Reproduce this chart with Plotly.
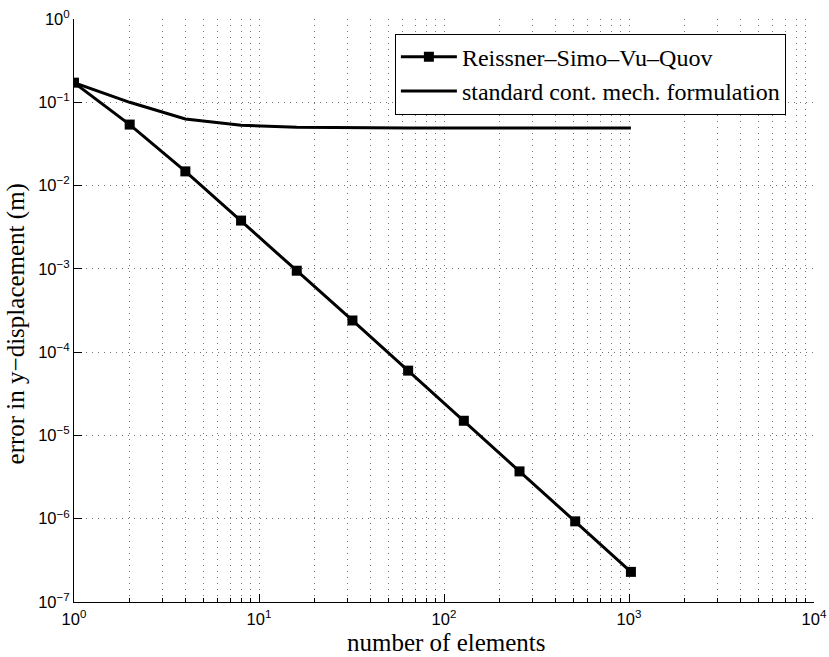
import plotly.graph_objects as go

# Data
n_elements = [1, 2, 4, 8, 16, 32, 64, 128, 256, 512, 1024]
err_rsvq = [0.172, 0.054, 0.0148, 0.0038, 0.00095, 0.00024, 6.0e-5, 1.5e-5, 3.7e-6, 9.3e-7, 2.3e-7]
err_standard = [0.172, 0.100, 0.063, 0.053, 0.050, 0.049, 0.049, 0.049, 0.049, 0.049, 0.049]

x_tickvals = [1, 10, 100, 1000, 10000]
x_ticktext = ["10<sup>0</sup>", "10<sup>1</sup>", "10<sup>2</sup>", "10<sup>3</sup>", "10<sup>4</sup>"]
x_minorvals = [2, 3, 4, 5, 6, 7, 8, 9,
               20, 30, 40, 50, 60, 70, 80, 90,
               200, 300, 400, 500, 600, 700, 800, 900,
               2000, 3000, 4000, 5000, 6000, 7000, 8000, 9000]
y_tickvals = [1e-7, 1e-6, 1e-5, 1e-4, 1e-3, 1e-2, 1e-1, 1]
y_ticktext = ["10<sup>−7</sup>", "10<sup>−6</sup>", "10<sup>−5</sup>", "10<sup>−4</sup>",
              "10<sup>−3</sup>", "10<sup>−2</sup>", "10<sup>−1</sup>", "10<sup>0</sup>"]
x_title = "number of elements"
y_title = "error in y−displacement (m)"

fig = go.Figure()
fig.add_trace(go.Scatter(
    x=n_elements, y=err_rsvq, mode="lines+markers",
    name="Reissner–Simo–Vu–Quov",
    line=dict(color="black", width=3),
    marker=dict(symbol="square", size=10, color="black"),
))
fig.add_trace(go.Scatter(
    x=n_elements, y=err_standard, mode="lines",
    name="standard cont. mech. formulation",
    line=dict(color="black", width=3),
))

grid_color = "rgba(0,0,0,0.55)"
tick_font = dict(family="Liberation Sans, Arial, sans-serif", size=16.5, color="black")
serif = "Liberation Serif, Times New Roman, serif"

fig.update_layout(
    width=829, height=657,
    margin=dict(l=74, r=15, t=19, b=55),
    paper_bgcolor="white", plot_bgcolor="white",
    showlegend=True,
    legend=dict(
        x=0.962, y=0.975, xanchor="right", yanchor="top",
        bgcolor="white", bordercolor="black", borderwidth=1,
        font=dict(family=serif, size=24, color="black"),
        itemwidth=56, tracegroupgap=0,
    ),
    xaxis=dict(
        type="log", range=[0, 4], automargin=False,
        tickmode="array", tickvals=x_tickvals, ticktext=x_ticktext,
        ticks="inside", ticklen=8, tickcolor="black", tickwidth=1,
        ticklabelstandoff=2,
        showline=True, linecolor="black", linewidth=1, mirror=False,
        showgrid=True, gridcolor=grid_color, griddash="1px,5px", gridwidth=1,
        zeroline=False,
        tickfont=tick_font,
        minor=dict(tickmode="array", tickvals=x_minorvals, ticks="inside", ticklen=4,
                   tickcolor="black", showgrid=True, gridcolor=grid_color,
                   griddash="1px,5px", gridwidth=1),
    ),
    yaxis=dict(
        type="log", range=[-7, 0], automargin=False,
        tickmode="array", tickvals=y_tickvals, ticktext=y_ticktext,
        ticks="inside", ticklen=8, tickcolor="black", tickwidth=1,
        showline=True, linecolor="black", linewidth=1, mirror=False,
        showgrid=True, gridcolor=grid_color, griddash="1px,5px", gridwidth=1,
        zeroline=False,
        tickfont=tick_font,
    ),
    annotations=[
        dict(text=x_title, xref="paper", yref="paper", x=0.503, y=-0.0703,
             xanchor="center", yanchor="middle", showarrow=False,
             font=dict(family=serif, size=25, color="black")),
        dict(text=y_title, xref="paper", yref="paper", x=-0.079, y=0.477,
             xanchor="center", yanchor="middle", showarrow=False, textangle=-90,
             font=dict(family=serif, size=25, color="black")),
    ],
)

# Remove the browser's default 8px body margin so the figure fills the window exactly.
fig.write_html("out.html", config={"displayModeBar": False},
               post_script="document.body.style.margin='0';")
